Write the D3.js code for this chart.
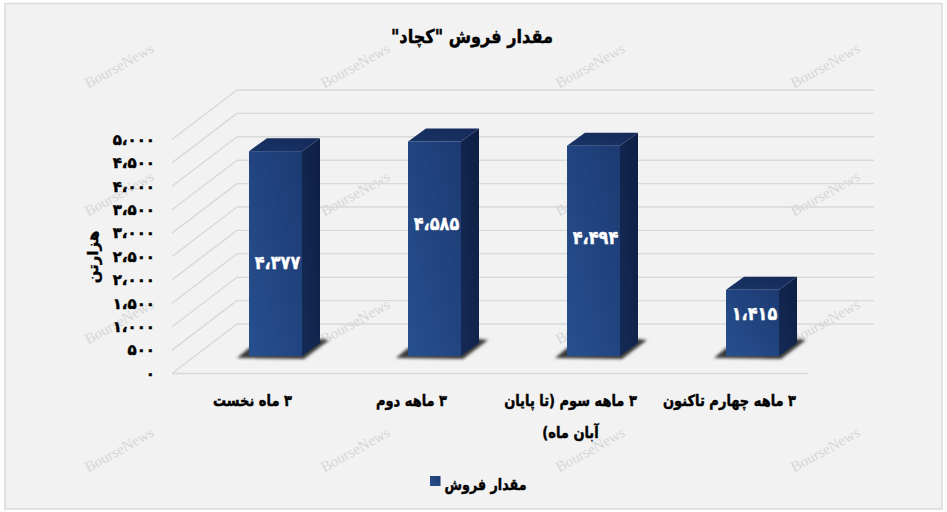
<!DOCTYPE html>
<html lang="fa"><head><meta charset="utf-8">
<script src="https://cdn.jsdelivr.net/npm/d3@7/dist/d3.min.js"></script>
<style>html,body{margin:0;padding:0;background:#fff}svg{display:block}text{font-family:"DejaVu Sans";font-weight:bold}</style>
</head><body><svg id="c" width="947" height="512"></svg>
<script>
const chartTitle='مقدار فروش "کچاد"';
const categories=[['۳ ماه نخست'],['۳ ماهه دوم'],['۳ ماهه سوم (تا پایان','آبان ماه)'],['۳ ماهه چهارم تاکنون']];
const values=[4377,4585,4494,1415];
const tickValues=[0,500,1000,1500,2000,2500,3000,3500,4000,4500,5000];
const axisTitle='هزارتن';
const legendLabel='مقدار فروش';
const watermarkText='BourseNews';
const wmColumns=[120,356,591,826], wmRows=[67,195,323,451];
const labelHeights=[1970,2800,2500,880]; // where each value label sits on its bar, in axis units

const fa=s=>String(s).replace(/\d/g,d=>'۰۱۲۳۴۵۶۷۸۹'[d]);
const fmt=v=>fa(d3.format(',')(v)).replace(/,/g,'،');

const svg=d3.select('#c');
const defs=svg.append('defs');
function grad(id,x1,y1,x2,y2,a,b){const g=defs.append('linearGradient').attr('id',id).attr('x1',x1).attr('y1',y1).attr('x2',x2).attr('y2',y2);
 g.append('stop').attr('offset',0).attr('stop-color',a);g.append('stop').attr('offset',1).attr('stop-color',b);}
grad('front',0,1,1,0,'#27508f','#1c3a72');
grad('side',0,1,1,0,'#142a56','#0e1f43');
grad('top',0,1,1,0,'#1a3466','#14295a');
defs.append('filter').attr('id','blur').attr('x','-30%').attr('y','-60%').attr('width','160%').attr('height','220%').append('feGaussianBlur').attr('stdDeviation',1.8);

svg.append('rect').attr('x',5).attr('y',3.5).attr('width',937).attr('height',505.5).attr('fill','#f2f2f2').attr('stroke','#d9d9d9').attr('stroke-width',1.5);

// watermarks
const wm=svg.append('g');
wmRows.forEach(r=>wmColumns.forEach(c=>wm.append('text').attr('transform',`translate(${c},${r}) rotate(-29)`)
 .attr('text-anchor','middle').attr('dominant-baseline','middle').style('font-family','"Liberation Serif"').style('font-weight','normal')
 .style('font-size','15px').attr('fill','#d6d6d6').text(watermarkText)));

const x=d3.scaleBand().domain(d3.range(categories.length)).range([172,808]).paddingInner(2/3).paddingOuter(1/3);
const y=d3.scaleLinear().domain([0,5000]).range([373.5,139.5]);
const wallDx=65,wallDy=-49.5,wallRight=874;
const barShiftX=24,barShiftY=-17.5,depthX=18,depthY=-13;

// walls and floor
const grid=svg.append('g').attr('stroke','#d9d9d9').attr('stroke-width',1.4).attr('fill','none');
tickValues.forEach(t=>{
 grid.append('line').attr('x1',x.range()[0]).attr('y1',y(t)).attr('x2',x.range()[0]+wallDx).attr('y2',y(t)+wallDy);
 grid.append('line').attr('x1',x.range()[0]+wallDx).attr('y1',y(t)+wallDy).attr('x2',wallRight).attr('y2',y(t)+wallDy);
});
grid.append('line').attr('x1',172).attr('y1',y(0)).attr('x2',808).attr('y2',y(0));

// axis labels
const ax=svg.append('g').attr('transform','translate(155,0)')
 .call(d3.axisLeft(y).tickValues(tickValues).tickSize(0).tickPadding(0).tickFormat(fmt));
ax.select('.domain').remove();
ax.selectAll('text').style('font-size','15px').attr('fill','#000').attr('stroke','#000').attr('stroke-width',0.5).style('direction','ltr');
svg.append('text').attr('transform','translate(93,257) rotate(-90)').attr('text-anchor','middle').attr('dominant-baseline','middle')
 .style('font-size','15px').attr('fill','#000').attr('stroke','#000').attr('stroke-width',0.4).text(axisTitle);

// bars
const bars=svg.append('g').selectAll('g').data(values).join('g');
const bw=x.bandwidth();
const L=i=>x(i)+barShiftX, R=i=>L(i)+bw, B=()=>y(0)+barShiftY, T=v=>y(v)+barShiftY;
const pts=a=>a.map(p=>p.join(',')).join(' ');
bars.append('polygon').attr('filter','url(#blur)').attr('fill','#3a3a3a')
 .attr('points',(v,i)=>pts([[L(i)-12,B()+2],[R(i)+2,B()+3],[R(i)+27,B()-16],[R(i)+8,B()-18],[L(i),B()-8]]));
bars.append('polygon').attr('fill','url(#top)')
 .attr('points',(v,i)=>pts([[L(i),T(v)],[R(i),T(v)],[R(i)+depthX,T(v)+depthY],[L(i)+depthX,T(v)+depthY]]));
bars.append('polygon').attr('fill','url(#side)')
 .attr('points',(v,i)=>pts([[R(i),T(v)],[R(i)+depthX,T(v)+depthY],[R(i)+depthX,B()+depthY],[R(i),B()]]));
bars.append('rect').attr('fill','url(#front)').attr('x',(v,i)=>L(i)).attr('y',v=>T(v)).attr('width',bw).attr('height',v=>B()-T(v));
bars.append('text').attr('transform',(v,i)=>`translate(${L(i)+bw/2+2},${y(labelHeights[i])+barShiftY}) scale(0.95,1.1)`)
 .attr('text-anchor','middle').attr('dominant-baseline','middle').attr('fill','#fff').attr('stroke','#fff').attr('stroke-width',0.4).style('font-size','17px').style('direction','ltr').text(fmt);

// squeezed heavy text helper: the reference face is taller and narrower than DejaVu Bold
function label(g,px,py,s,size,sx){return g.append('text').attr('transform',`translate(${px},${py}) scale(${sx},1)`)
 .attr('text-anchor','middle').attr('dominant-baseline','middle').attr('direction','rtl').attr('fill','#000').attr('stroke','#000').attr('stroke-width',0.45)
 .style('font-size',size+'px').text(s);}

// category labels
const cats=svg.append('g');
categories.forEach((lines,i)=>lines.forEach((s,j)=>label(cats,x(i)+bw/2+1,402+j*32,s,15.5,0.84)));

// title and legend
label(svg,472,38,chartTitle,19,0.85);
svg.append('rect').attr('x',430).attr('y',476).attr('width',10.5).attr('height',10).attr('fill','url(#front)');
label(svg,485.5,486,legendLabel,15.5,0.82);
</script></body></html>
